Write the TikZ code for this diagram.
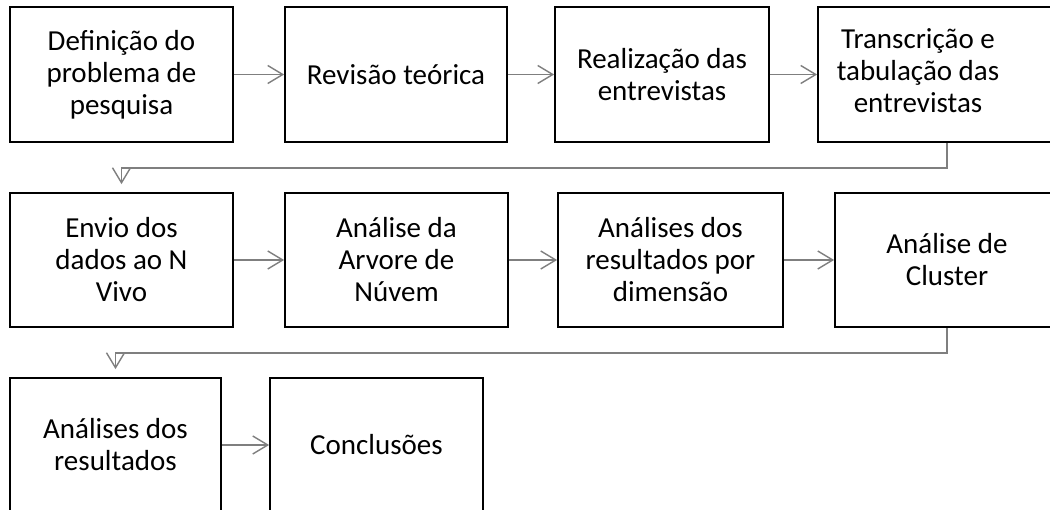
\documentclass[tikz,border=0pt]{standalone}
\usepackage{fontspec}
\setmainfont{Carlito}
\usetikzlibrary{arrows.meta}

\definecolor{cinzaseta}{HTML}{7F7F7F}

\tikzset{
  caixa/.style={draw, line width=1.8pt, inner sep=0pt,
    font=\fontsize{29}{32}\selectfont},
  seta/.style={draw=cinzaseta, line width=1.4pt,
    -{Straight Barb[length=15pt,width=18pt,line width=1.4pt]}}
}

\begin{document}
\begin{tikzpicture}[x=1pt, y=-1pt]
  % Area da figura
  \useasboundingbox (0,0) rectangle (1050,509);
  \clip (0,0) rectangle (1050,509);

  % Primeira linha de caixas
  \foreach \nome/\x/\w/\texto in {a1/121.5/223/{Definição do\\problema de\\pesquisa},
                                  a2/396/222/{Revisão teórica},
                                  a3/662/214/{Realização das\\entrevistas}} {
    \node[caixa, align=center, minimum width=\w pt, minimum height=135pt] (\nome) at (\x, 74.5) {\texto};
  }
  \node[caixa, minimum width=258pt, minimum height=135pt] (a4) at (947, 74.5)
    {\begin{tabular}{@{}c@{}}Transcrição e\\tabulação das\\entrevistas\end{tabular}\hspace*{58pt}};

  % Segunda linha de caixas
  \foreach \nome/\x/\w/\texto in {b1/121.5/223/{Envio dos\\dados ao N\\Vivo},
                                  b2/396.5/223/{Análise da\\Arvore de\\Núvem},
                                  b3/670.5/225/{Análises dos\\resultados por\\dimensão},
                                  b4/947/224/{Análise de\\Cluster}} {
    \node[caixa, align=center, minimum width=\w pt, minimum height=134pt] (\nome) at (\x, 260) {\texto};
  }

  % Terceira linha de caixas
  \foreach \nome/\x/\w/\texto in {c1/115.5/211/{Análises dos\\resultados},
                                  c2/376.5/213/{Conclusões}} {
    \node[caixa, align=center, minimum width=\w pt, minimum height=134pt] (\nome) at (\x, 445) {\texto};
  }

  % Setas horizontais
  \foreach \i/\j in {a1/a2, a2/a3, a3/a4, b1/b2, b2/b3, b3/b4, c1/c2} {
    \draw[seta] (\i.east) -- (\j.west);
  }

  % Setas de uma linha para a seguinte
  \coordinate (k1) at (121.5, 168);
  \coordinate (k2) at (115.5, 353);
  \draw[seta, shorten >=8pt] (a4.south) |- (k1) -- (b1.north);
  \draw[seta, shorten >=8pt] (b4.south) |- (k2) -- (c1.north);
\end{tikzpicture}
\end{document}
